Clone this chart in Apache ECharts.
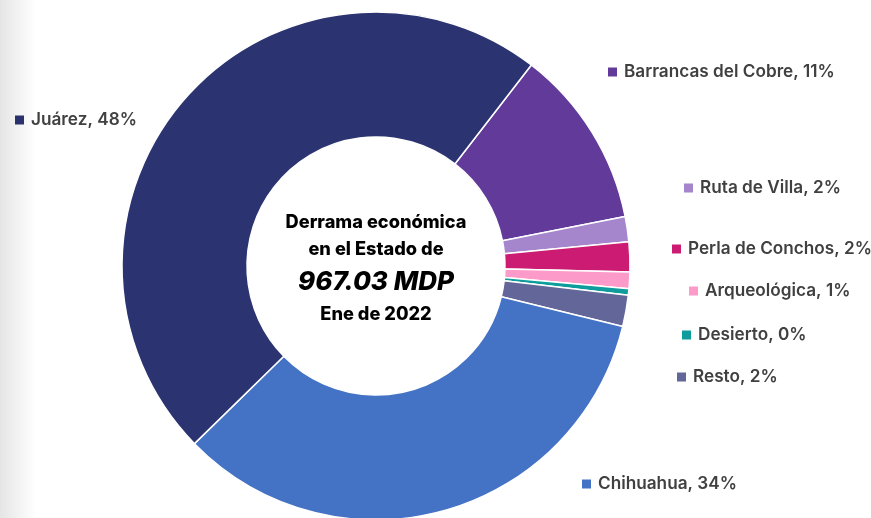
<!DOCTYPE html>
<html>
<head>
<meta charset="utf-8">
<script src="https://cdn.jsdelivr.net/npm/echarts@6/dist/echarts.min.js"></script>
<style>
  html, body { margin: 0; padding: 0; background: #ffffff; }
  #chart { width: 871px; height: 518px; }
</style>
</head>
<body>
<div id="chart"></div>
<script>
// Derrama económica por región turística, enero 2022 (millones de pesos)
const regiones = ['Barrancas del Cobre', 'Ruta de Villa', 'Perla de Conchos', 'Arqueológica', 'Desierto', 'Resto', 'Chihuahua', 'Juárez'];
const derrama = [110.24, 15.47, 18.37, 10.25, 3.87, 19.34, 327.25, 462.24];
const colores = ['#613A9A', '#A585CC', '#CC1B72', '#FC9ACA', '#0E9C9C', '#626698', '#4472C4', '#2B3470'];
const periodo = 'Ene de 2022';

// label anchor (marker left edge, vertical middle) for each region
const labelAnchors = [[608, 72], [684, 188], [672, 249], [689, 291], [682, 335], [677, 377], [582, 484], [15, 120]];

const total = derrama.reduce((a, b) => a + b, 0);

const FONT = 'Inter';
const rich = { t: { fontFamily: FONT, fontWeight: 600, fontSize: 17.2, color: '#404040', padding: [0, 0, 0, 7] } };
colores.forEach((c, i) => {
  rich['m' + i] = { width: 9, height: 9, backgroundColor: c };
});

const chart = echarts.init(document.getElementById('chart'), null, { renderer: 'canvas' });
const cx = 376, cy = 266;

const centerText = (text, y, size, italic) => ({
  type: 'text', x: cx, y: y, z: 20,
  style: {
    text: text, fontFamily: FONT, fontWeight: 800, fontStyle: italic ? 'italic' : 'normal',
    fontSize: size, fill: '#000', align: 'center', verticalAlign: 'middle'
  }
});

chart.setOption({
  animation: false,
  backgroundColor: '#ffffff',
  color: colores,
  graphic: [
    {
      type: 'rect', left: 0, top: 0, z: 10,
      shape: { width: 36, height: 518 },
      style: {
        fill: new echarts.graphic.LinearGradient(0, 0, 1, 0, [
          { offset: 0, color: 'rgba(0,0,0,0.10)' },
          { offset: 1, color: 'rgba(0,0,0,0)' }
        ])
      }
    },
    centerText('Derrama económica', 223, 18.2, false),
    centerText('en el Estado de', 250, 18.2, false),
    centerText(total.toFixed(2) + ' MDP', 282, 26, true),
    centerText(periodo, 315, 18.2, false)
  ],
  series: [{
    type: 'pie',
    center: [cx, cy],
    radius: [129, 254],
    startAngle: 52.3,
    clockwise: true,
    percentPrecision: 0,
    avoidLabelOverlap: false,
    itemStyle: { borderColor: '#ffffff', borderWidth: 1.5 },
    label: {
      show: true,
      position: 'outside',
      formatter: p => '{m' + p.dataIndex + '|}{t|' + p.name + ', ' + p.percent + '%}',
      rich: rich
    },
    labelLine: { show: false },
    labelLayout: p => ({
      x: labelAnchors[p.dataIndex][0],
      y: labelAnchors[p.dataIndex][1],
      align: 'left',
      verticalAlign: 'middle'
    }),
    emphasis: { disabled: true },
    data: regiones.map((n, i) => ({ name: n, value: derrama[i] }))
  }]
});
</script>
</body>
</html>
